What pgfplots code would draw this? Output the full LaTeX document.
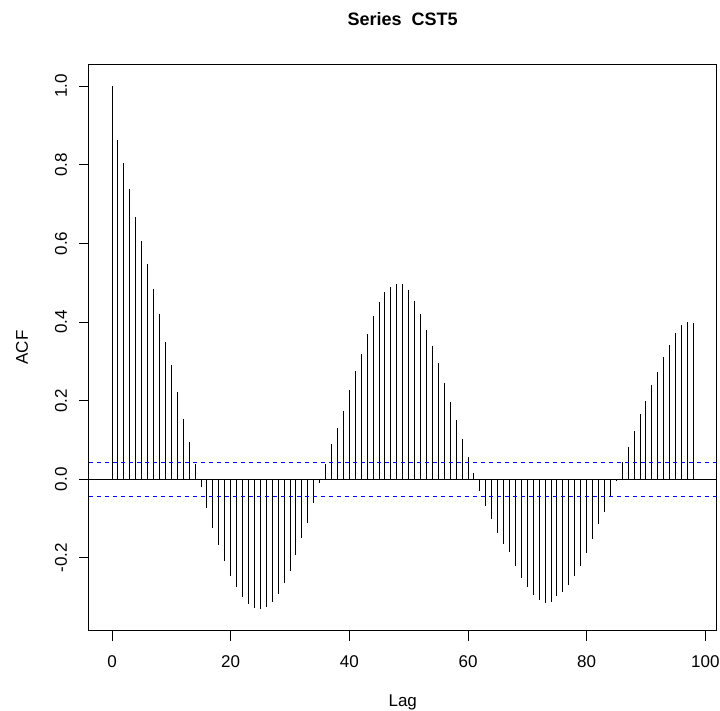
\documentclass[border=0pt]{standalone}
\usepackage{pgfplots}
\pgfplotsset{compat=1.18}
\usepackage{pgfplotstable}
\usepackage{fontspec}
\setmainfont{Liberation Sans}
\pgfplotstableread{
lag acf
0 1.000
1 0.864
2 0.805
3 0.739
4 0.668
5 0.606
6 0.547
7 0.483
8 0.420
9 0.350
10 0.290
11 0.221
12 0.154
13 0.094
14 0.039
15 -0.019
16 -0.074
17 -0.125
18 -0.167
19 -0.209
20 -0.246
21 -0.275
22 -0.300
23 -0.318
24 -0.328
25 -0.331
26 -0.325
27 -0.312
28 -0.292
29 -0.264
30 -0.232
31 -0.192
32 -0.148
33 -0.110
34 -0.061
35 -0.010
36 0.039
37 0.089
38 0.130
39 0.174
40 0.226
41 0.275
42 0.319
43 0.370
44 0.415
45 0.452
46 0.476
47 0.490
48 0.496
49 0.496
50 0.481
51 0.453
52 0.421
53 0.380
54 0.338
55 0.295
56 0.244
57 0.197
58 0.150
59 0.103
60 0.057
61 0.015
62 -0.030
63 -0.067
64 -0.102
65 -0.137
66 -0.165
67 -0.185
68 -0.220
69 -0.250
70 -0.275
71 -0.295
72 -0.308
73 -0.314
74 -0.311
75 -0.297
76 -0.286
77 -0.269
78 -0.246
79 -0.220
80 -0.188
81 -0.152
82 -0.114
83 -0.082
84 -0.044
85 -0.004
86 0.043
87 0.083
88 0.124
89 0.166
90 0.199
91 0.239
92 0.272
93 0.310
94 0.341
95 0.371
96 0.393
97 0.401
98 0.398
}\acftable
\begin{document}
\begin{tikzpicture}
\useasboundingbox (0,0) rectangle (360pt,355.5pt);
\begin{axis}[
  name=ax,
  at={(44.4pt,40.15pt)}, anchor=south west,
  width=313.95pt, height=283.1pt, scale only axis,
  xmin=-3.92, xmax=101.92, ymin=-0.385, ymax=1.055,
  axis line style={black, line width=0.6pt},
  xtick={0,20,40,60,80,100},
  ytick={-0.2,0,0.2,0.4,0.6,0.8,1.0},
  yticklabels={-0.2,0.0,0.2,0.4,0.6,0.8,1.0},
  xtick pos=bottom, ytick pos=left,
  tick align=outside, major tick length=5pt,
  tick style={black, line width=0.5pt},
  /pgf/number format/assume math mode=true,
  ticklabel style={font=\fontsize{8.5}{10}\selectfont},
  xticklabel style={anchor=base, yshift=-13.6pt},
  yticklabel style={anchor=base, rotate=90, yshift=5.9pt},
]
\addplot[ycomb, black, line width=0.5pt, no marks] table[x=lag, y=acf] {\acftable};
\addplot[black, line width=0.5pt, no marks] coordinates {(-3.92,0) (101.92,0)};
\addplot[blue, line width=0.5pt, dash pattern=on 2pt off 2pt, no marks] coordinates {(-3.92,0.043) (101.92,0.043)};
\addplot[blue, line width=0.5pt, dash pattern=on 2pt off 2pt, no marks] coordinates {(-3.92,-0.043) (101.92,-0.043)};
\end{axis}
\node[font=\fontsize{8.5}{10}\selectfont] at ([yshift=-36pt]ax.south) {Lag};
\node[font=\fontsize{8.5}{10}\selectfont, rotate=90] at ([xshift=-33.4pt]ax.west) {ACF};
\node[font=\bfseries\fontsize{9}{11}\selectfont] at ([yshift=22.75pt]ax.north) {Series\ \ CST5};
\end{tikzpicture}
\end{document}
